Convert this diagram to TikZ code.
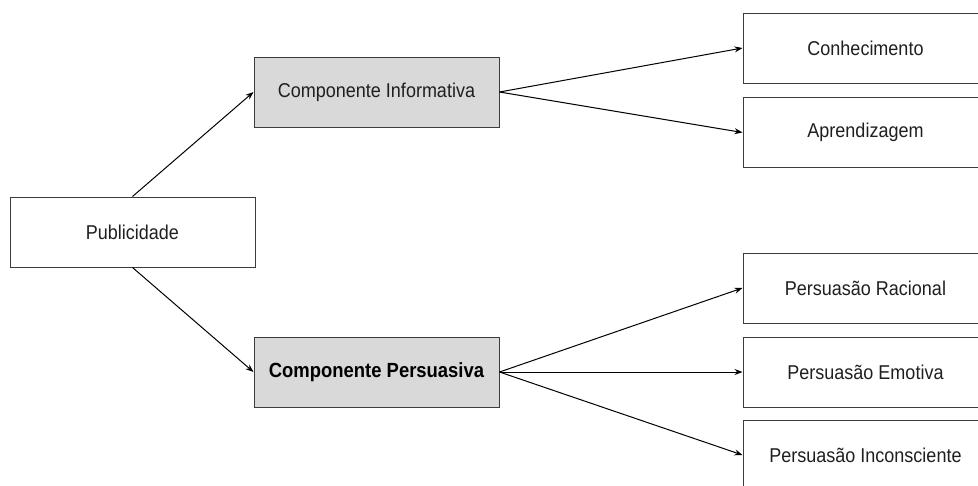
\documentclass[tikz,border=0pt]{standalone}
\usepackage{fontspec}
\setmainfont{Liberation Sans}[FakeStretch=0.9]
\usetikzlibrary{arrows.meta}
\definecolor{edgec}{HTML}{3C3C3C}
\definecolor{boxfill}{HTML}{D9D9D9}
\tikzset{
  box/.style={draw=edgec, line width=1pt, minimum width=245pt, minimum height=70pt, inner sep=0pt, font=\fontsize{20}{24}\selectfont, text=black!88},
  greybox/.style={box, fill=boxfill},
  arr/.style={draw=black, line width=1pt, -{Stealth[length=8pt,width=6pt]}}
}
\begin{document}
\begin{tikzpicture}[x=1pt,y=-1pt]
\useasboundingbox (0,0) rectangle (978,485);
\clip (0,0) rectangle (978,485);
\node[box] (pub) at (132.5,232) {Publicidade};
\node[greybox] (inf) at (376.5,92) {Componente Informativa};
\node[greybox, font=\fontsize{20.5}{24}\selectfont\bfseries, text=black] (per) at (376.5,372) {Componente Persuasiva};
\node[box] (con) at (865.5,48) {Conhecimento};
\node[box] (apr) at (865.5,132.5) {Aprendizagem};
\node[box] (rac) at (865.5,288) {Persuasão Racional};
\node[box] (emo) at (865.5,372) {Persuasão Emotiva};
\node[box] (inc) at (865.5,455) {Persuasão Inconsciente};
\draw[arr] (pub.north) -- (inf.west);
\draw[arr] (pub.south) -- (per.west);
\draw[arr] (inf.east) -- (con.west);
\draw[arr] (inf.east) -- (apr.west);
\draw[arr] (per.east) -- (rac.west);
\draw[arr] (per.east) -- (emo.west);
\draw[arr] (per.east) -- (inc.west);
\end{tikzpicture}
\end{document}
